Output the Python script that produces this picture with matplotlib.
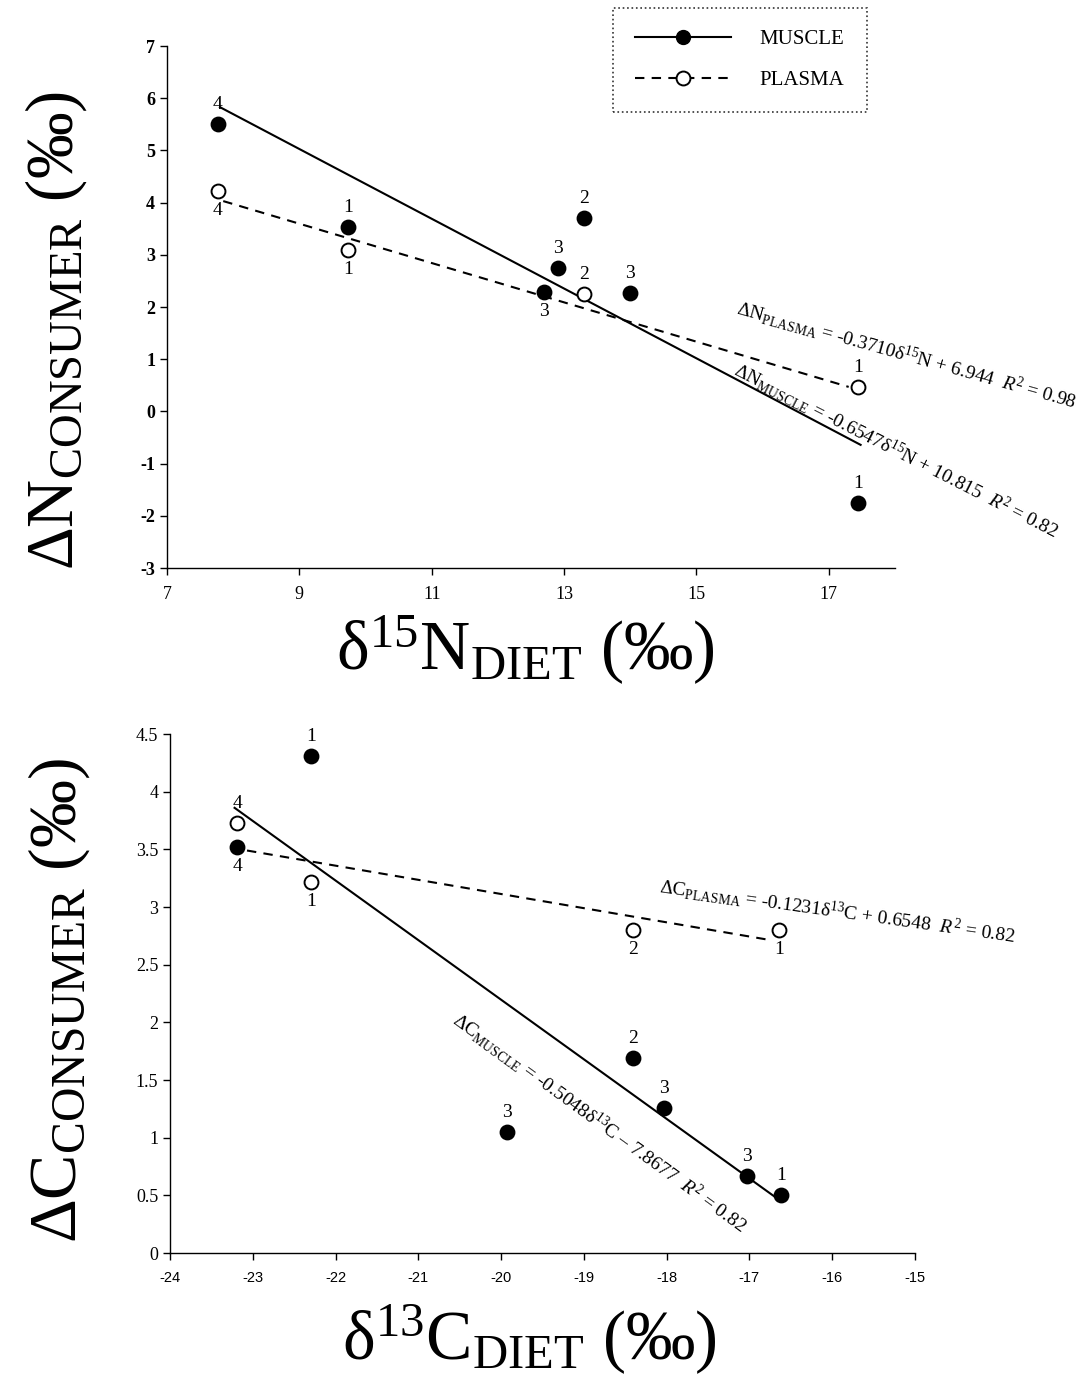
import numpy as np
import matplotlib
matplotlib.use("Agg")
import matplotlib.pyplot as plt
from matplotlib.lines import Line2D

plt.rcParams['font.family'] = ['Liberation Serif', 'DejaVu Serif']
plt.rcParams['mathtext.fontset'] = 'custom'
plt.rcParams['mathtext.rm'] = 'Liberation Serif'
plt.rcParams['mathtext.it'] = 'Liberation Serif:italic'
plt.rcParams['mathtext.bf'] = 'Liberation Serif:bold'

# =====================================================
# DATA
# =====================================================
# nitrogen panel
n_muscle_x = [7.77, 9.73, 12.70, 12.91, 13.30, 14.00, 17.44]
n_muscle_y = [5.51, 3.53, 2.29, 2.75, 3.70, 2.27, -1.75]
n_muscle_lab = ['4', '1', '3', '3', '2', '3', '1']
n_muscle_pos = ['above', 'above', 'below', 'above', 'above', 'above', 'above']

n_plasma_x = [7.77, 9.73, 13.30, 17.44]
n_plasma_y = [4.22, 3.09, 2.25, 0.47]
n_plasma_lab = ['4', '1', '2', '1']
n_plasma_pos = ['below', 'below', 'above', 'above']

n_muscle_fit_x = [7.80, 17.48]
n_muscle_fit_y = [5.83, -0.64]
n_plasma_fit_x = [7.85, 17.30]
n_plasma_fit_y = [4.03, 0.47]

# carbon panel
c_muscle_x = [-22.30, -23.19, -19.93, -18.41, -18.03, -17.03, -16.62]
c_muscle_y = [4.31, 3.52, 1.05, 1.69, 1.26, 0.67, 0.50]
c_muscle_lab = ['1', '4', '3', '2', '3', '3', '1']
c_muscle_pos = ['above', 'below', 'above', 'above', 'above', 'above', 'above']

c_plasma_x = [-23.19, -22.30, -18.41, -16.64]
c_plasma_y = [3.73, 3.22, 2.80, 2.80]
c_plasma_lab = ['4', '1', '2', '1']
c_plasma_pos = ['above', 'below', 'below', 'below']

c_muscle_fit_x = [-23.22, -16.62]
c_muscle_fit_y = [3.86, 0.45]
c_plasma_fit_x = [-23.07, -16.72]
c_plasma_fit_y = [3.49, 2.71]

n_xticks = [7, 9, 11, 13, 15, 17]
n_yticks = [-3, -2, -1, 0, 1, 2, 3, 4, 5, 6, 7]
c_xticks = [-24, -23, -22, -21, -20, -19, -18, -17, -16, -15]
c_yticks = [0, 0.5, 1, 1.5, 2, 2.5, 3, 3.5, 4, 4.5]
c_yticklabels = ['0', '0.5', '1', '1.5', '2', '2.5', '3', '3.5', '4', '4.5']

eq_n_plasma = r'ΔN$_{\mathrm{PLASMA}}$ = -0.3710δ$^{15}$N + 6.944  $\mathit{R}^2$ = 0.98'
eq_n_muscle = r'ΔN$_{\mathrm{MUSCLE}}$ = -0.6547δ$^{15}$N + 10.815  $\mathit{R}^2$ = 0.82'
eq_c_plasma = r'ΔC$_{\mathrm{PLASMA}}$ = -0.1231δ$^{13}$C + 0.6548  $\mathit{R}^2$ = 0.82'
eq_c_muscle = r'ΔC$_{\mathrm{MUSCLE}}$ = -0.5048δ$^{13}$C – 7.8677  $\mathit{R}^2$ = 0.82'

DASH = (0, (4.5, 3.5))


def draw_points(ax, xs, ys, labels, where, filled):
    ax.plot(xs, ys, linestyle='none', marker='o', markersize=10,
            markerfacecolor='black' if filled else 'white',
            markeredgecolor='black', markeredgewidth=1.4, zorder=4)
    for x, y, t, w in zip(xs, ys, labels, where):
        dy = 14 if w == 'above' else -14
        ax.annotate(t, (x, y), xytext=(0, dy), textcoords='offset points',
                    ha='center', va='center', fontsize=14, zorder=5)


def style_axes(ax):
    for s in ['top', 'right']:
        ax.spines[s].set_visible(False)
    for s in ['left', 'bottom']:
        ax.spines[s].set_linewidth(1.0)
    ax.tick_params(direction='out', length=5, width=1.0)


fig = plt.figure(figsize=(10.85, 13.96), dpi=100)

# =====================================================
# TOP PANEL - NITROGEN
# =====================================================
ax1 = fig.add_axes([0.1539, 0.5931, 0.671, 0.3739])
style_axes(ax1)

ax1.plot(n_muscle_fit_x, n_muscle_fit_y, color='black', lw=1.5, zorder=3)
ax1.plot(n_plasma_fit_x, n_plasma_fit_y, color='black', lw=1.5,
         linestyle=DASH, zorder=3)
draw_points(ax1, n_muscle_x, n_muscle_y, n_muscle_lab, n_muscle_pos, True)
draw_points(ax1, n_plasma_x, n_plasma_y, n_plasma_lab, n_plasma_pos, False)

ax1.set_xlim(7, 18)
ax1.set_ylim(-3, 7)
ax1.set_xticks(n_xticks)
ax1.set_yticks(n_yticks)
ax1.set_xticklabels([str(v) for v in n_xticks], fontsize=13)
ax1.set_yticklabels([str(v) for v in n_yticks], fontsize=13, fontweight='bold')
ax1.tick_params(axis='x', pad=8)

ax1.text(18.18, 1.08, eq_n_plasma, rotation=-15.6, ha='center', va='center',
         fontsize=14, rotation_mode='anchor')
ax1.text(18.02, -0.74, eq_n_muscle, rotation=-27, ha='center', va='center',
         fontsize=14, rotation_mode='anchor')

handles = [
    Line2D([], [], color='black', lw=1.5, marker='o', markersize=10,
           markerfacecolor='black', markeredgecolor='black'),
    Line2D([], [], color='black', lw=1.5, linestyle=DASH, marker='o',
           markersize=10, markerfacecolor='white', markeredgecolor='black',
           markeredgewidth=1.4),
]
leg = fig.legend(handles, ['MUSCLE', 'PLASMA'], loc='upper left',
                 bbox_to_anchor=(613 / 1085, 1 - 8 / 1396), fontsize=15,
                 handlelength=4.6, handletextpad=1.4, borderpad=1.05,
                 labelspacing=1.0, borderaxespad=0, fancybox=False)
leg.get_frame().set_linestyle(':')
leg.get_frame().set_edgecolor('black')
leg.get_frame().set_linewidth(1.2)

fig.text(0.052, 0.763, r'ΔN$_{\mathrm{CONSUMER}}$ ($\mathit{‰}$)',
         rotation=90, ha='center', va='center', fontsize=48)
fig.text(0.484, 0.534, r'δ$^{15}$N$_{\mathrm{DIET}}$ ($\mathit{‰}$)',
         ha='center', va='center', fontsize=50)

# =====================================================
# BOTTOM PANEL - CARBON
# =====================================================
ax2 = fig.add_axes([0.1567, 0.1024, 0.6866, 0.3718])
style_axes(ax2)

ax2.plot(c_muscle_fit_x, c_muscle_fit_y, color='black', lw=1.5, zorder=3)
ax2.plot(c_plasma_fit_x, c_plasma_fit_y, color='black', lw=1.5,
         linestyle=DASH, zorder=3)
draw_points(ax2, c_muscle_x, c_muscle_y, c_muscle_lab, c_muscle_pos, True)
draw_points(ax2, c_plasma_x, c_plasma_y, c_plasma_lab, c_plasma_pos, False)

ax2.set_xlim(-24, -15)
ax2.set_ylim(0, 4.5)
ax2.set_xticks(c_xticks)
ax2.set_yticks(c_yticks)
ax2.set_xticklabels([str(v) for v in c_xticks], fontsize=10.5,
                    family='Liberation Sans')
ax2.set_yticklabels(c_yticklabels, fontsize=13)
ax2.tick_params(axis='x', pad=8)

ax2.text(-15.93, 2.96, eq_c_plasma, rotation=-8, ha='center', va='center',
         fontsize=14, rotation_mode='anchor')
ax2.text(-18.81, 1.13, eq_c_muscle, rotation=-36, ha='center', va='center',
         fontsize=14, rotation_mode='anchor')

fig.text(0.054, 0.283, r'ΔC$_{\mathrm{CONSUMER}}$ ($\mathit{‰}$)',
         rotation=90, ha='center', va='center', fontsize=49)
fig.text(0.488, 0.040, r'δ$^{13}$C$_{\mathrm{DIET}}$ ($\mathit{‰}$)',
         ha='center', va='center', fontsize=50)

plt.savefig("out.png", dpi=100)
plt.close()
